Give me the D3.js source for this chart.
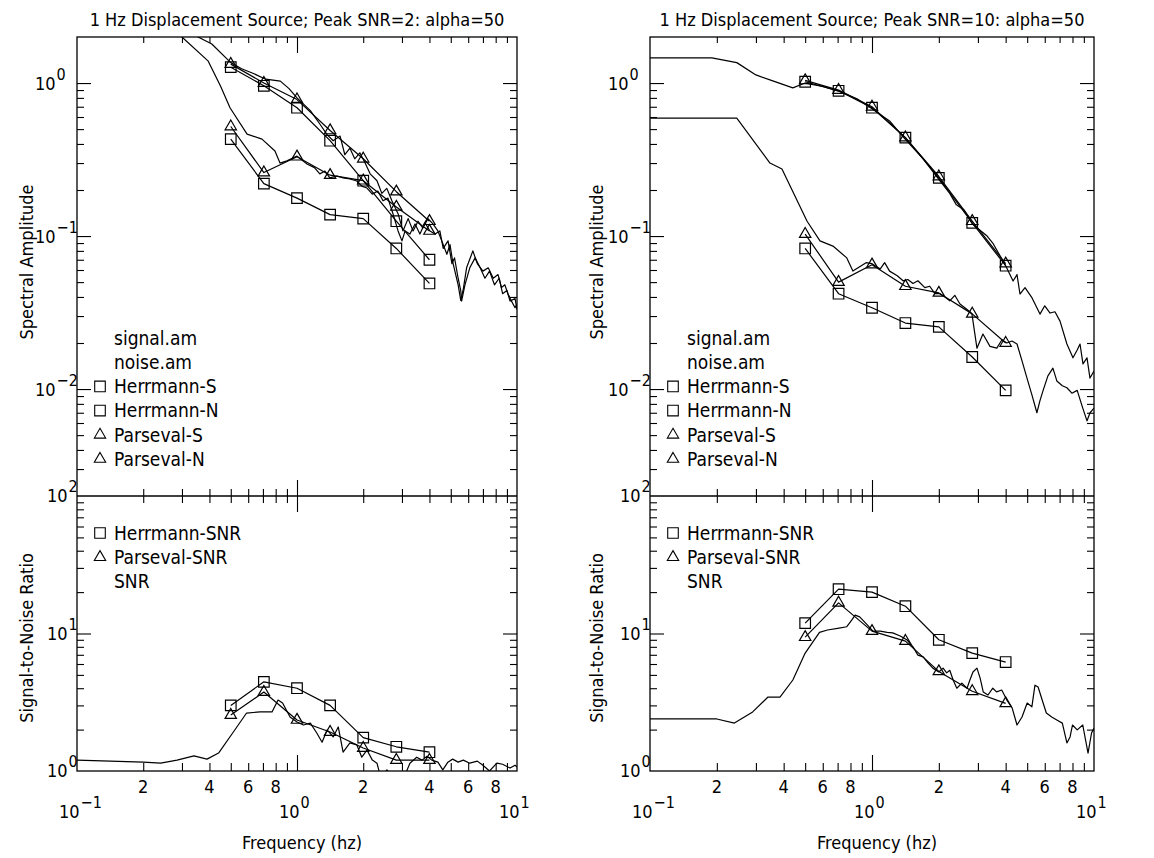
<!DOCTYPE html>
<html>
<head>
<meta charset="utf-8">
<script src="https://cdn.jsdelivr.net/npm/d3@7"></script>
<style>
  body { margin: 0; background: #fff; }
  svg text {
    font-family: "Liberation Sans Narrow", "DejaVu Sans Condensed", "Arial Narrow", sans-serif;
    fill: #000;
  }
</style>
</head>
<body>
<svg id="chart" width="1154" height="858"></svg>
<script>
'use strict';

// frequencies of the band estimates (Hz)
const bandFreqs = [0.5, 0.707, 1.0, 1.414, 2.0, 2.828, 4.0];

// Peak SNR = 2
const leftTitle = '1 Hz Displacement Source; Peak SNR=2: alpha=50';
const leftHerrmannS = [1.27, 0.96, 0.69, 0.42, 0.23, 0.125, 0.07];
const leftHerrmannN = [0.43, 0.22, 0.177, 0.138, 0.13, 0.083, 0.049];
const leftParsevalS = [1.33, 1.0, 0.78, 0.49, 0.32, 0.195, 0.125];
const leftParsevalN = [0.52, 0.26, 0.33, 0.25, 0.23, 0.155, 0.108];
const leftHerrmannSnr = [3.0, 4.45, 4.0, 3.0, 1.75, 1.5, 1.37];
const leftParsevalSnr = [2.55, 3.75, 2.35, 1.92, 1.47, 1.2, 1.2];

const leftSignalAm = [
  [0.1, 3.5], [0.25, 3.4], [0.32, 2.4], [0.355, 2.0], [0.41, 1.8], [0.5, 1.36],
  [0.56, 1.24], [0.63, 1.16], [0.72, 1.06], [0.84, 1.03], [0.92, 0.92], [1.0, 0.80],
  [1.08, 0.72], [1.15, 0.66], [1.27, 0.54], [1.37, 0.46], [1.46, 0.42], [1.57, 0.45],
  [1.65, 0.34], [1.74, 0.375], [1.83, 0.32], [1.93, 0.35], [2.04, 0.30], [2.15, 0.255],
  [2.31, 0.23], [2.43, 0.19], [2.56, 0.205], [2.7, 0.17], [2.88, 0.14], [3.03, 0.108],
  [3.2, 0.13], [3.37, 0.108], [3.55, 0.125], [3.73, 0.113], [3.94, 0.13], [4.15, 0.12],
  [4.37, 0.108], [4.55, 0.093], [4.8, 0.076], [4.96, 0.088], [5.1, 0.068], [5.4, 0.048],
  [5.55, 0.038], [5.7, 0.045], [5.9, 0.062], [6.3, 0.08], [6.6, 0.066], [7.0, 0.059],
  [7.4, 0.062], [7.8, 0.053], [8.2, 0.056], [8.5, 0.046], [8.8, 0.048], [9.1, 0.042],
  [9.4, 0.038], [9.8, 0.034], [10, 0.036],
];
const leftNoiseAm = [
  [0.1, 3.0], [0.25, 3.0], [0.3, 2.0], [0.395, 1.39], [0.45, 0.95], [0.496, 0.69],
  [0.593, 0.464], [0.693, 0.43], [0.794, 0.36], [0.837, 0.30], [0.9, 0.31], [1.0, 0.333],
  [1.11, 0.296], [1.2, 0.28], [1.27, 0.255], [1.34, 0.266], [1.41, 0.24], [1.52, 0.247],
  [1.62, 0.24], [1.74, 0.236], [1.87, 0.229], [1.97, 0.212], [2.08, 0.206], [2.2, 0.188],
  [2.33, 0.197], [2.46, 0.17], [2.59, 0.177], [2.73, 0.14], [2.88, 0.108], [3.0, 0.093],
  [3.1, 0.108], [3.26, 0.103], [3.44, 0.12], [3.62, 0.103], [3.82, 0.122], [4.02, 0.108],
  [4.24, 0.103], [4.46, 0.108], [4.62, 0.083], [4.86, 0.093], [5.06, 0.066], [5.2, 0.072],
  [5.4, 0.053], [5.55, 0.044], [5.6, 0.0376], [5.8, 0.048], [6.1, 0.062], [6.45, 0.072],
  [6.8, 0.062], [7.15, 0.053], [7.5, 0.059], [7.9, 0.048], [8.3, 0.053], [8.6, 0.042],
  [9.0, 0.044], [9.3, 0.0376], [9.8, 0.039], [10, 0.033],
];
const leftSnr = [
  [0.1, 1.2], [0.2, 1.16], [0.24, 1.14], [0.285, 1.2], [0.34, 1.29], [0.39, 1.22],
  [0.44, 1.35], [0.51, 1.89], [0.59, 2.64], [0.68, 2.69], [0.77, 2.69], [0.82, 3.28],
  [0.86, 3.12], [0.93, 2.47], [1.0, 2.27], [1.07, 2.16], [1.15, 2.23], [1.23, 1.89],
  [1.3, 1.62], [1.37, 1.99], [1.46, 1.77], [1.54, 2.09], [1.62, 1.37], [1.74, 1.6],
  [1.87, 1.55], [1.97, 1.26], [2.08, 1.42], [2.2, 1.2], [2.31, 1.14], [2.4, 0.9],
  [2.5, 0.95], [2.56, 1.02], [2.7, 0.92], [2.9, 0.97], [3.05, 0.88], [3.26, 1.14],
  [3.5, 1.26], [3.7, 1.2], [3.9, 1.28], [4.1, 1.2], [4.37, 1.16], [4.6, 1.02],
  [4.85, 1.16], [5.1, 1.22], [5.4, 1.16], [5.7, 1.2], [6.1, 1.14], [6.6, 1.18],
  [7.0, 1.1], [7.5, 1.0], [8.1, 1.14], [8.6, 1.12], [9.3, 1.05], [9.8, 1.1], [10, 1.07],
];

// Peak SNR = 10
const rightTitle = '1 Hz Displacement Source; Peak SNR=10: alpha=50';
const rightHerrmannS = [1.02, 0.89, 0.69, 0.44, 0.24, 0.122, 0.064];
const rightHerrmannN = [0.083, 0.042, 0.034, 0.027, 0.0255, 0.0162, 0.0098];
const rightParsevalS = [1.04, 0.90, 0.70, 0.44, 0.245, 0.125, 0.066];
const rightParsevalN = [0.103, 0.050, 0.065, 0.047, 0.0425, 0.031, 0.020];
const rightHerrmannSnr = [11.9, 21.0, 20.0, 15.8, 9.0, 7.2, 6.2];
const rightParsevalSnr = [9.4, 16.7, 10.4, 8.8, 5.3, 3.8, 3.1];

const rightSignalAm = [
  [0.1, 1.46], [0.19, 1.46], [0.246, 1.36], [0.30, 1.13], [0.36, 1.03], [0.44, 0.93],
  [0.5, 1.0], [0.6, 0.95], [0.7, 0.89], [0.855, 0.79], [1.0, 0.68], [1.2, 0.565],
  [1.41, 0.43], [1.7, 0.32], [2.0, 0.235], [2.24, 0.19], [2.4, 0.16], [2.6, 0.148],
  [2.83, 0.12], [3.3, 0.1], [3.5, 0.09], [4.0, 0.064], [4.32, 0.0508], [4.5, 0.056],
  [4.64, 0.0418], [4.89, 0.046], [5.26, 0.0394], [5.71, 0.0309], [6.0, 0.035],
  [6.34, 0.0314], [6.67, 0.032], [7.03, 0.0278], [7.55, 0.0197], [8.04, 0.016],
  [8.4, 0.018], [8.65, 0.0197], [8.92, 0.0146], [9.3, 0.016], [9.59, 0.0118], [10, 0.0131],
];
const rightNoiseAm = [
  [0.1, 0.59], [0.246, 0.59], [0.347, 0.30], [0.393, 0.274], [0.51, 0.125], [0.583, 0.093],
  [0.667, 0.086], [0.77, 0.072], [0.82, 0.059], [0.88, 0.063], [0.94, 0.067], [1.0, 0.066],
  [1.09, 0.061], [1.14, 0.067], [1.2, 0.059], [1.3, 0.055], [1.38, 0.051], [1.45, 0.052],
  [1.53, 0.049], [1.61, 0.051], [1.73, 0.046], [1.82, 0.047], [1.92, 0.042], [2.02, 0.042],
  [2.13, 0.040], [2.24, 0.0377], [2.36, 0.041], [2.49, 0.036], [2.62, 0.034], [2.76, 0.032],
  [2.82, 0.0309], [2.97, 0.0185], [3.16, 0.0229], [3.4, 0.019], [3.65, 0.0185], [3.85, 0.021],
  [4.05, 0.020], [4.27, 0.0206], [4.5, 0.0197], [4.74, 0.0153], [4.99, 0.0118], [5.26, 0.0091],
  [5.53, 0.007], [5.71, 0.0084], [5.9, 0.0098], [6.2, 0.0122], [6.53, 0.0137], [6.8, 0.0113],
  [7.2, 0.0105], [7.55, 0.0102], [7.95, 0.0094], [8.4, 0.0098], [8.9, 0.0075], [9.3, 0.0062],
  [9.6, 0.007], [10, 0.0075],
];
const rightSnr = [
  [0.1, 2.39], [0.2, 2.39], [0.24, 2.23], [0.29, 2.69], [0.34, 3.45], [0.385, 3.45],
  [0.44, 4.59], [0.5, 7.2], [0.58, 10.2], [0.63, 10.6], [0.7, 10.9], [0.77, 11.2],
  [0.81, 12.5], [0.84, 13.6], [0.88, 13.2], [0.95, 11.6], [1.01, 10.4], [1.09, 10.4],
  [1.17, 10.2], [1.24, 10.1], [1.34, 9.6], [1.44, 8.97], [1.53, 7.99], [1.61, 6.96],
  [1.7, 6.76], [1.79, 6.1], [1.88, 5.6], [2.0, 5.25], [2.09, 5.6], [2.17, 5.17],
  [2.24, 5.4], [2.32, 4.59], [2.41, 4.0], [2.54, 4.36], [2.68, 4.0], [2.76, 4.59],
  [2.85, 5.25], [2.97, 5.6], [3.07, 4.74], [3.17, 3.76], [3.33, 3.57], [3.5, 4.0],
  [3.64, 3.76], [3.84, 3.88], [4.05, 3.28], [4.28, 2.87], [4.5, 2.16], [4.74, 2.47],
  [5.0, 3.12], [5.25, 2.93], [5.42, 4.21], [5.6, 4.08], [5.9, 3.12], [6.1, 2.64],
  [6.45, 2.47], [6.8, 2.35], [7.2, 2.23], [7.55, 1.6], [7.8, 1.77], [8.0, 2.16],
  [8.4, 1.99], [8.9, 2.16], [9.4, 1.35], [9.75, 1.89], [10, 2.05],
];

const ampLegend = [
  {label: 'signal.am'}, {label: 'noise.am'},
  {label: 'Herrmann-S', sym: 'square'}, {label: 'Herrmann-N', sym: 'square'},
  {label: 'Parseval-S', sym: 'triangle'}, {label: 'Parseval-N', sym: 'triangle'},
];
const snrLegend = [
  {label: 'Herrmann-SNR', sym: 'square'}, {label: 'Parseval-SNR', sym: 'triangle'},
  {label: 'SNR'},
];
const xTickLabels = {2: '2', 4: '4', 6: '6', 8: '8'};

const TOP = 37;
const MID = 496;
const BOT = 771;
const FONT = 18;
const LEGEND_FONT = 19;

let svg = d3.select('#chart');
let defs = svg.append('defs');

function isMajor(t) {
  let l = Math.log10(t);
  return Math.abs(l - Math.round(l)) < 1e-6;
}

function symbolPath(type) {
  if (type === 'square') return d3.symbol().type(d3.symbolSquare).size(112)();
  return d3.symbol().type(d3.symbolTriangle).size(56)();
}

function tickAxis(g, axis, values, size) {
  g.call(axis.tickValues(values).tickSize(size).tickFormat(''))
    .call(function(s) {
      s.select('.domain').remove();
      s.selectAll('line').attr('stroke', '#000').attr('stroke-width', 1.1);
    });
}

function powerLabel(g, x, y, exp) {
  let t = g.append('text')
    .attr('x', x).attr('y', y)
    .attr('dy', '0.36em')
    .style('font-size', FONT + 'px');
  t.append('tspan').text('10');
  t.append('tspan').attr('dx', 1).attr('dy', -10).style('font-size', '16px').text(exp);
}

function expText(v) {
  let e = Math.round(Math.log10(v));
  return e < 0 ? '\u2212' + (-e) : String(e);
}

function drawPanel(cfg) {
  let g = svg.append('g');
  let x = d3.scaleLog().domain([0.1, 10]).range([cfg.left, cfg.right]);
  let yAmp = d3.scaleLog().domain([0.002, 2]).range([MID, TOP]);
  let ySnr = d3.scaleLog().domain([1, 100]).range([BOT, MID]);

  defs.append('clipPath').attr('id', cfg.id + '-amp')
    .append('rect').attr('x', cfg.left).attr('y', TOP)
    .attr('width', cfg.right - cfg.left).attr('height', MID - TOP);
  defs.append('clipPath').attr('id', cfg.id + '-snr')
    .append('rect').attr('x', cfg.left).attr('y', MID)
    .attr('width', cfg.right - cfg.left).attr('height', BOT - MID);

  // ticks
  let xt = x.ticks().filter(function(t) {
    return t > 0.1001 && t < 9.999;
  });
  let xMinor = xt.filter(function(t) { return !isMajor(t); });
  let xMajor = xt.filter(isMajor);

  let ampT = yAmp.ticks().filter(function(t) {
    return t > 0.00201 && t < 1.999;
  });
  let snrT = ySnr.ticks().filter(function(t) {
    return t > 1.001 && t < 99.9;
  });

  let yAxes = [[yAmp, ampT], [ySnr, snrT]];
  yAxes.forEach(function(pair) {
    let minor = pair[1].filter(function(t) { return !isMajor(t); });
    let major = pair[1].filter(isMajor);
    let gl = g.append('g').attr('transform', 'translate(' + cfg.left + ',0)');
    tickAxis(gl.append('g'), d3.axisLeft(pair[0]), minor, -7);
    tickAxis(gl.append('g'), d3.axisLeft(pair[0]), major, -14);
    let gr = g.append('g').attr('transform', 'translate(' + cfg.right + ',0)');
    tickAxis(gr.append('g'), d3.axisRight(pair[0]), minor, -7);
    tickAxis(gr.append('g'), d3.axisRight(pair[0]), major, -14);
  });

  let gt = g.append('g').attr('transform', 'translate(0,' + TOP + ')');
  tickAxis(gt.append('g'), d3.axisTop(x), xMinor, -6);
  tickAxis(gt.append('g'), d3.axisTop(x), xMajor, -16);
  let gm = g.append('g').attr('transform', 'translate(0,' + MID + ')');
  tickAxis(gm.append('g'), d3.axisTop(x), xMinor, 7);
  tickAxis(gm.append('g'), d3.axisTop(x), xMajor, 16);
  tickAxis(gm.append('g'), d3.axisBottom(x), xMinor, 7);
  tickAxis(gm.append('g'), d3.axisBottom(x), xMajor, 16);
  let gb = g.append('g').attr('transform', 'translate(0,' + BOT + ')');
  tickAxis(gb.append('g'), d3.axisBottom(x), xMinor, -8);
  tickAxis(gb.append('g'), d3.axisBottom(x), xMajor, -16);

  // frame
  g.append('rect')
    .attr('x', cfg.left).attr('y', TOP)
    .attr('width', cfg.right - cfg.left).attr('height', BOT - TOP)
    .attr('fill', 'none').attr('stroke', '#000').attr('stroke-width', 1.3);
  g.append('line')
    .attr('x1', cfg.left).attr('x2', cfg.right)
    .attr('y1', MID).attr('y2', MID)
    .attr('stroke', '#000').attr('stroke-width', 1.7);

  // tick labels
  [1, 0.1, 0.01].forEach(function(v) {
    powerLabel(g, cfg.left - 42, yAmp(v), expText(v));
  });
  [100, 10, 1].forEach(function(v) {
    powerLabel(g, cfg.left - 30, ySnr(v), expText(v));
  });
  x.ticks().forEach(function(t) {
    let lead = Math.round(t / Math.pow(10, Math.floor(Math.log10(t) + 1e-9)));
    if (isMajor(t)) {
      powerLabel(g, x(t) - 18, 812, expText(t));
    } else if (xTickLabels[lead]) {
      g.append('text')
        .attr('x', x(t)).attr('y', 787).attr('dy', '0.36em')
        .attr('text-anchor', 'middle')
        .style('font-size', FONT + 'px')
        .text(xTickLabels[lead]);
    }
  });

  // titles
  g.append('text')
    .attr('x', (cfg.left + cfg.right) / 2).attr('y', 26)
    .attr('text-anchor', 'middle')
    .style('font-size', FONT + 'px')
    .text(cfg.title);
  g.append('text')
    .attr('x', (cfg.left + cfg.right) / 2 + 5).attr('y', 849)
    .attr('text-anchor', 'middle')
    .style('font-size', FONT + 'px')
    .text('Frequency (hz)');
  g.append('text')
    .attr('transform', 'translate(' + cfg.yTitleX + ',262) rotate(-90)')
    .attr('text-anchor', 'middle')
    .style('font-size', FONT + 'px')
    .text('Spectral Amplitude');
  g.append('text')
    .attr('transform', 'translate(' + cfg.yTitleX + ',638) rotate(-90)')
    .attr('text-anchor', 'middle')
    .style('font-size', FONT + 'px')
    .text('Signal-to-Noise Ratio');

  // curves
  let ampLine = d3.line()
    .x(function(d) { return x(d[0]); })
    .y(function(d) { return yAmp(d[1]); });
  let snrLine = d3.line()
    .x(function(d) { return x(d[0]); })
    .y(function(d) { return ySnr(d[1]); });

  let ga = g.append('g').attr('clip-path', 'url(#' + cfg.id + '-amp)');
  let gs = g.append('g').attr('clip-path', 'url(#' + cfg.id + '-snr)');

  function curve(target, line, data) {
    target.append('path')
      .datum(data)
      .attr('d', line)
      .attr('fill', 'none')
      .attr('stroke', '#000')
      .attr('stroke-width', 1.2)
      .attr('stroke-linejoin', 'round');
  }

  function marked(target, line, yScale, values, sym) {
    let pts = bandFreqs.map(function(f, i) { return [f, values[i]]; });
    curve(target, line, pts);
    target.selectAll(null)
      .data(pts)
      .enter().append('path')
      .attr('transform', function(d) {
        return 'translate(' + x(d[0]) + ',' + yScale(d[1]) + ')';
      })
      .attr('d', symbolPath(sym))
      .attr('fill', 'none')
      .attr('stroke', '#000')
      .attr('stroke-width', 1.2);
  }

  curve(ga, ampLine, cfg.signalAm);
  curve(ga, ampLine, cfg.noiseAm);
  marked(ga, ampLine, yAmp, cfg.herrmannS, 'square');
  marked(ga, ampLine, yAmp, cfg.herrmannN, 'square');
  marked(ga, ampLine, yAmp, cfg.parsevalS, 'triangle');
  marked(ga, ampLine, yAmp, cfg.parsevalN, 'triangle');

  curve(gs, snrLine, cfg.snr);
  marked(gs, snrLine, ySnr, cfg.herrmannSnr, 'square');
  marked(gs, snrLine, ySnr, cfg.parsevalSnr, 'triangle');

  // legends
  function legend(items, y0) {
    items.forEach(function(it, i) {
      let y = y0 + i * 24.2;
      if (it.sym) {
        g.append('path')
          .attr('transform', 'translate(' + (cfg.left + 23) + ',' + y + ')')
          .attr('d', symbolPath(it.sym))
          .attr('fill', 'none')
          .attr('stroke', '#000')
          .attr('stroke-width', 1.1);
      }
      g.append('text')
        .attr('x', cfg.left + 37).attr('y', y).attr('dy', '0.36em')
        .style('font-size', LEGEND_FONT + 'px')
        .text(it.label);
    });
  }
  legend(ampLegend, 338);
  legend(snrLegend, 533);
}

drawPanel({
  id: 'left', left: 77, right: 517, yTitleX: 33, title: leftTitle,
  signalAm: leftSignalAm, noiseAm: leftNoiseAm, snr: leftSnr,
  herrmannS: leftHerrmannS, herrmannN: leftHerrmannN,
  parsevalS: leftParsevalS, parsevalN: leftParsevalN,
  herrmannSnr: leftHerrmannSnr, parsevalSnr: leftParsevalSnr,
});
drawPanel({
  id: 'right', left: 650, right: 1094, yTitleX: 603, title: rightTitle,
  signalAm: rightSignalAm, noiseAm: rightNoiseAm, snr: rightSnr,
  herrmannS: rightHerrmannS, herrmannN: rightHerrmannN,
  parsevalS: rightParsevalS, parsevalN: rightParsevalN,
  herrmannSnr: rightHerrmannSnr, parsevalSnr: rightParsevalSnr,
});
</script>
</body>
</html>
